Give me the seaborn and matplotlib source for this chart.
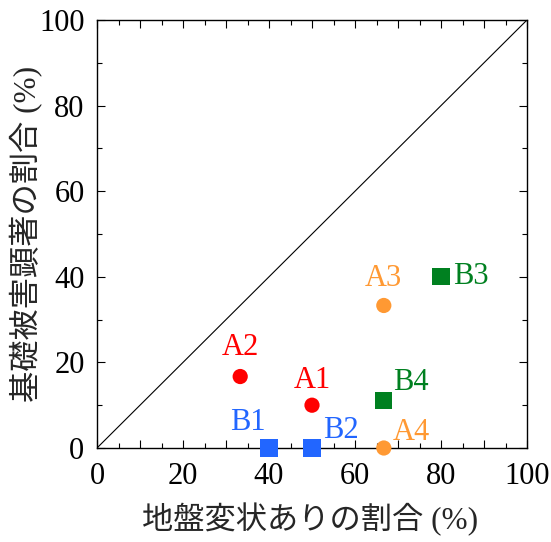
import numpy as np
import pandas as pd
import matplotlib
matplotlib.use('Agg')
import matplotlib.pyplot as plt
from matplotlib.ticker import MultipleLocator, FuncFormatter
import seaborn as sns

# data
names = ['A1', 'A2', 'A3', 'A4', 'B1', 'B2', 'B3', 'B4']
ground_pct = [50.0, 33.3, 66.7, 66.7, 40.0, 50.0, 80.0, 66.7]
damage_pct = [10.0, 16.7, 33.3, 0.0, 0.0, 0.0, 40.0, 11.1]
markers = ['o', 'o', 'o', 'o', 's', 's', 's', 's']
colors = ['#ff0000', '#ff0000', '#ff9933', '#ff9933',
          '#2266ff', '#2266ff', '#008020', '#008020']
# label offsets in pixels (dx, dy)
label_offsets = [(0, 25), (0, 29), (0, 27), (28, 16),
                 (-21, 26), (29, 18), (30, 0), (27, 18)]

df = pd.DataFrame({'name': names, 'x': ground_pct, 'y': damage_pct,
                   'marker': markers, 'color': colors})

sns.set_style('ticks')
plt.rcParams['font.family'] = ['Liberation Serif', 'Noto Sans CJK JP']
plt.rcParams['axes.unicode_minus'] = False

fig = plt.figure(figsize=(5.51, 5.42), dpi=100)
ax = fig.add_axes([97 / 551, 1 - 448 / 542, 430 / 551, 428 / 542])

# 1:1 line
ax.plot([0, 100], [0, 100], color='black', lw=0.8, zorder=1)

pal = dict(zip(df['name'], df['color']))
circ = df[df['marker'] == 'o']
sq = df[df['marker'] == 's']
sns.scatterplot(data=circ, x='x', y='y', hue='name', palette=pal, marker='o',
                s=120, linewidth=0, legend=False, ax=ax, clip_on=False, zorder=3)
sns.scatterplot(data=sq, x='x', y='y', hue='name', palette=pal, marker='s',
                s=150, linewidth=0, legend=False, ax=ax, clip_on=False, zorder=3)

for (_, r), (dx, dy) in zip(df.iterrows(), label_offsets):
    ax.annotate(r['name'], (r['x'], r['y']), xytext=(dx * 0.72, dy * 0.72),
                textcoords='offset points', ha='center', va='center',
                color=r['color'], fontsize=22, zorder=4)

ax.set_xlim(0, 100)
ax.set_ylim(0, 100)
ax.xaxis.set_major_locator(MultipleLocator(10))
ax.xaxis.set_minor_locator(MultipleLocator(5))
ax.xaxis.set_major_formatter(FuncFormatter(lambda v, p: f'{int(v)}' if int(round(v)) % 20 == 0 else ''))
ax.yaxis.set_major_locator(MultipleLocator(20))
ax.yaxis.set_minor_locator(MultipleLocator(10))

ax.tick_params(which='both', direction='in', top=True, right=True,
               colors='black', labelsize=22, width=0.8)
ax.tick_params(which='major', length=6)
ax.tick_params(which='minor', length=3.5)
ax.tick_params(axis='x', which='major', pad=10)
ax.tick_params(axis='y', which='major', pad=9)
for s in ax.spines.values():
    s.set_color('black')
    s.set_linewidth(1.0)

ax.set_xlabel('地盤変状ありの割合 (%)', fontsize=22.5)
ax.set_ylabel('基礎被害顕著の割合 (%)', fontsize=22.5)
ax.xaxis.set_label_coords(0.495, -0.128)
ax.yaxis.set_label_coords(-0.124, 0.5)

fig.savefig('out.png', dpi=100)
